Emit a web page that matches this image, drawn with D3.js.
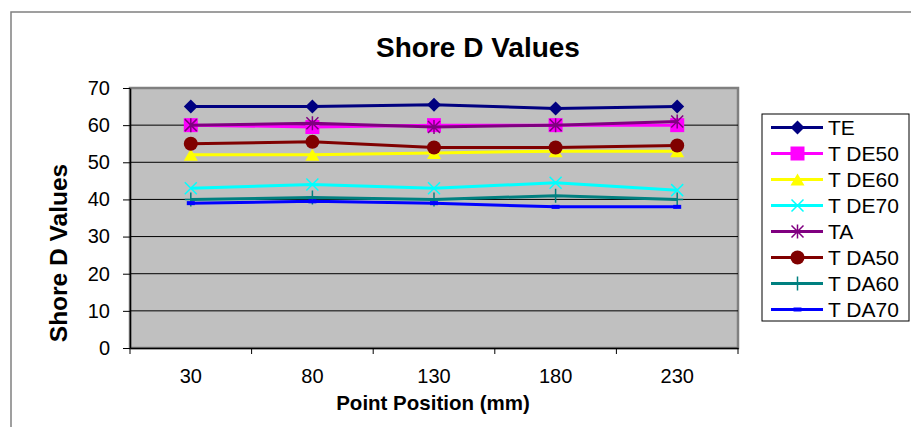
<!DOCTYPE html>
<html>
<head>
<meta charset="utf-8">
<script src="https://cdn.jsdelivr.net/npm/d3@7"></script>
<style>
  html, body { margin: 0; padding: 0; background: #fff; }
  svg { display: block; font-family: "Liberation Sans", Arial, sans-serif; }
</style>
</head>
<body>
<svg id="chart" width="911" height="427"></svg>
<script>
// Shore D hardness readings along the specimen
const positions = ["30", "80", "130", "180", "230"];
const yTicks = [0, 10, 20, 30, 40, 50, 60, 70];

const seriesNames = ["TE", "T DE50", "T DE60", "T DE70", "TA", "T DA50", "T DA60", "T DA70"];
const TE     = [65, 65, 65.5, 64.5, 65];
const TDE50  = [60, 59.5, 60, 60, 60];
const TDE60  = [52, 52, 52.5, 53, 53];
const TDE70  = [43, 44, 43, 44.5, 42.5];
const TA     = [60, 60.5, 59.5, 60, 61];
const TDA50  = [55, 55.5, 54, 54, 54.5];
const TDA60  = [40, 40.5, 40, 41, 40];
const TDA70  = [39, 39.5, 39, 38, 38];
const seriesValues = [TE, TDE50, TDE60, TDE70, TA, TDA50, TDA60, TDA70];

const colors  = ["#000080", "#FF00FF", "#FFFF00", "#00FFFF", "#800080", "#800000", "#008080", "#0000FF"];
const markers = ["diamond", "square", "triangle", "x", "star", "circle", "plus", "dash"];

const svg = d3.select("#chart");
const plot = { left: 130, right: 738, top: 88, bottom: 348 };

const x = d3.scaleBand().domain(positions).range([plot.left, plot.right]).padding(0);
const y = d3.scaleLinear().domain([0, 70]).range([plot.bottom, plot.top]);
const cx = d => x(d) + x.bandwidth() / 2;

// chart area frame
svg.append("rect")
  .attr("x", 11).attr("y", 12).attr("width", 1000).attr("height", 1000)
  .attr("fill", "#fff").attr("stroke", "#808080").attr("stroke-width", 1.5);

// plot area
svg.append("rect")
  .attr("x", plot.left).attr("y", plot.top)
  .attr("width", plot.right - plot.left).attr("height", plot.bottom - plot.top)
  .attr("fill", "#C0C0C0").attr("stroke", "#808080").attr("stroke-width", 2.5);

// horizontal gridlines
svg.append("g").selectAll("line")
  .data(yTicks.filter(t => t > 0 && t < 70))
  .join("line")
  .attr("x1", plot.left).attr("x2", plot.right)
  .attr("y1", d => y(d)).attr("y2", d => y(d))
  .attr("stroke", "#000").attr("stroke-width", 1);

// y axis
const yAxis = svg.append("g")
  .attr("transform", `translate(${plot.left},0)`)
  .call(d3.axisLeft(y).tickValues(yTicks).tickSize(7).tickPadding(13).tickSizeOuter(0));
yAxis.select(".domain").attr("stroke", "#000").attr("stroke-width", 1.5);
yAxis.selectAll(".tick line").attr("stroke", "#000");
yAxis.selectAll("text").attr("font-size", 20).attr("fill", "#000")
  .attr("font-family", "'Liberation Sans', Arial, sans-serif");

// x axis: labels centred in categories, ticks on category boundaries
const xAxis = svg.append("g")
  .attr("transform", `translate(0,${plot.bottom})`)
  .call(d3.axisBottom(x).tickSize(0).tickPadding(21).tickSizeOuter(0));
xAxis.select(".domain").attr("stroke", "#000").attr("stroke-width", 1.5);
xAxis.selectAll("text").attr("font-size", 20).attr("fill", "#000")
  .attr("font-family", "'Liberation Sans', Arial, sans-serif");
const bounds = positions.map(p => x(p)).concat([x(positions[positions.length - 1]) + x.bandwidth()]);
svg.append("g").selectAll("line")
  .data(bounds)
  .join("line")
  .attr("x1", d => d).attr("x2", d => d)
  .attr("y1", plot.bottom).attr("y2", plot.bottom + 6)
  .attr("stroke", "#000").attr("stroke-width", 1);

// titles
svg.append("text")
  .attr("x", 478).attr("y", 57).attr("text-anchor", "middle")
  .attr("font-size", 28).attr("font-weight", "bold").text("Shore D Values");
svg.append("text")
  .attr("x", 433).attr("y", 410).attr("text-anchor", "middle")
  .attr("font-size", 20.5).attr("font-weight", "bold").text("Point Position (mm)");
svg.append("text")
  .attr("transform", "translate(67,253) rotate(-90)").attr("text-anchor", "middle")
  .attr("font-size", 24.5).attr("font-weight", "bold").text("Shore D Values");

// marker drawing
function drawMarker(g, type, color, px, py) {
  const s = 7;
  switch (type) {
    case "diamond":
      g.append("path").attr("d", `M${px},${py - s}L${px + s},${py}L${px},${py + s}L${px - s},${py}Z`)
        .attr("fill", color);
      break;
    case "square":
      g.append("rect").attr("x", px - s).attr("y", py - s).attr("width", 2 * s).attr("height", 2 * s)
        .attr("fill", color);
      break;
    case "triangle":
      g.append("path").attr("d", `M${px},${py - 6}L${px + 7},${py + 6}L${px - 7},${py + 6}Z`)
        .attr("fill", color);
      break;
    case "x":
      g.append("path").attr("d", `M${px - 6},${py - 6}L${px + 6},${py + 6}M${px - 6},${py + 6}L${px + 6},${py - 6}`)
        .attr("stroke", color).attr("stroke-width", 1.5).attr("fill", "none");
      break;
    case "star":
      g.append("path").attr("d",
        `M${px - 6},${py - 6}L${px + 6},${py + 6}M${px - 6},${py + 6}L${px + 6},${py - 6}M${px},${py - 7}L${px},${py + 7}`)
        .attr("stroke", color).attr("stroke-width", 1.5).attr("fill", "none");
      break;
    case "circle":
      g.append("circle").attr("cx", px).attr("cy", py).attr("r", 7).attr("fill", color);
      break;
    case "plus":
      g.append("path").attr("d", `M${px - 6},${py}L${px + 6},${py}M${px},${py - 7}L${px},${py + 7}`)
        .attr("stroke", color).attr("stroke-width", 1.5).attr("fill", "none");
      break;
    case "dash":
      g.append("rect").attr("x", px - 4).attr("y", py - 2).attr("width", 8).attr("height", 4)
        .attr("fill", color);
      break;
  }
}

// series lines + markers
const line = d3.line().x((d, i) => cx(positions[i])).y(d => y(d));
seriesValues.forEach((vals, si) => {
  const g = svg.append("g");
  g.append("path").datum(vals).attr("d", line)
    .attr("fill", "none").attr("stroke", colors[si]).attr("stroke-width", 3);
  vals.forEach((v, i) => drawMarker(g, markers[si], colors[si], cx(positions[i]), y(v)));
});

// legend
const legend = svg.append("g");
legend.append("rect")
  .attr("x", 762).attr("y", 114).attr("width", 147).attr("height", 207)
  .attr("fill", "#fff").attr("stroke", "#000").attr("stroke-width", 1);
seriesNames.forEach((name, i) => {
  const ly = 127.5 + i * 26;
  const g = legend.append("g");
  g.append("line").attr("x1", 771).attr("x2", 823).attr("y1", ly).attr("y2", ly)
    .attr("stroke", colors[i]).attr("stroke-width", 3);
  drawMarker(g, markers[i], colors[i], 797.5, ly);
  g.append("text").attr("x", 828).attr("y", ly + 7.5)
    .attr("font-size", 21).attr("fill", "#000").text(name);
});
</script>
</body>
</html>
